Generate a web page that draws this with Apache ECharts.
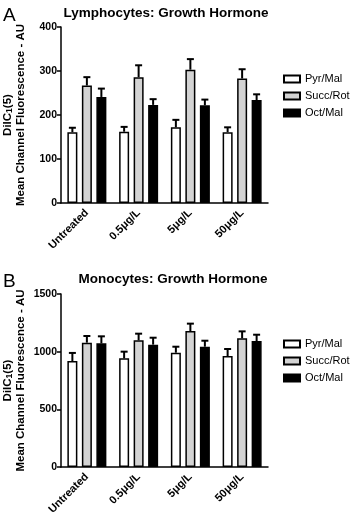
<!DOCTYPE html>
<html>
<head>
<meta charset="utf-8">
<script src="https://cdn.jsdelivr.net/npm/echarts@6/dist/echarts.min.js"></script>
<style>
  html, body { margin: 0; padding: 0; background: #fff; }
  #chart { width: 358px; height: 515px; }
</style>
</head>
<body>
<div id="chart"></div>
<script>
// --- Data ---
const categories = ['Untreated', '0.5μg/L', '5μg/L', '50μg/L'];
const seriesNames = ['Pyr/Mal', 'Succ/Rot', 'Oct/Mal'];

const lymphPyr = [161, 162, 172, 161];
const lymphPyrErr = [10, 11, 17, 11];
const lymphSucc = [267, 286, 303, 283];
const lymphSuccErr = [19, 27, 24, 21];
const lymphOct = [241, 223, 222, 234];
const lymphOctErr = [19, 13, 13, 13];

const monoPyr = [919, 942, 991, 962];
const monoPyrErr = [70, 58, 52, 61];
const monoSucc = [1078, 1098, 1179, 1116];
const monoSuccErr = [58, 58, 64, 60];
const monoOct = [1072, 1061, 1043, 1092];
const monoOctErr = [61, 60, 52, 55];

const FONT = '"Liberation Sans", Arial, sans-serif';
const fills = ['#ffffff', '#d3d3d3', '#000000'];
const BAR_W = 10;
const BAR_GAP = 0.45;

// --- Helpers ---
function barSeries(name, values, idx, gridIdx) {
  return {
    name: name,
    type: 'bar',
    xAxisIndex: gridIdx,
    yAxisIndex: gridIdx,
    data: values,
    barWidth: BAR_W,
    barGap: BAR_GAP * 100 + '%',
    itemStyle: { color: fills[idx], borderColor: '#000', borderWidth: 1.5 },
    emphasis: { disabled: true },
  };
}

function errorSeries(values, errs, idx, gridIdx) {
  const offset = (idx - 1) * BAR_W * (1 + BAR_GAP);
  return {
    type: 'custom',
    name: 'err' + gridIdx + idx,
    xAxisIndex: gridIdx,
    yAxisIndex: gridIdx,
    z: 3,
    data: values.map((v, i) => [i, v, errs[i]]),
    renderItem: (params, api) => {
      const base = api.coord([api.value(0), api.value(1)]);
      const top = api.coord([api.value(0), api.value(1) + api.value(2)]);
      const x = base[0] + offset;
      const style = { stroke: '#000', lineWidth: 2 };
      return {
        type: 'group',
        children: [
          { type: 'line', shape: { x1: x, y1: base[1], x2: x, y2: top[1] }, style },
          { type: 'line', shape: { x1: x - 3.5, y1: top[1], x2: x + 3.5, y2: top[1] }, style },
        ],
      };
    },
  };
}

function xAxis(gridIdx) {
  return {
    type: 'category',
    gridIndex: gridIdx,
    data: categories,
    axisLine: { lineStyle: { color: '#000', width: 1.5 } },
    axisTick: { alignWithLabel: true, length: 4, lineStyle: { color: '#000', width: 1.5 } },
    axisLabel: {
      rotate: 45,
      margin: 8,
      interval: 0,
      color: '#000',
      fontFamily: FONT,
      fontWeight: 'bold',
      fontSize: 11,
    },
  };
}

function yAxis(gridIdx, max, interval) {
  return {
    type: 'value',
    gridIndex: gridIdx,
    min: 0,
    max: max,
    interval: interval,
    splitLine: { show: false },
    axisLine: { show: true, lineStyle: { color: '#000', width: 1.5 } },
    axisTick: { show: true, length: 4, lineStyle: { color: '#000', width: 1.5 } },
    axisLabel: {
      color: '#000', fontFamily: FONT, fontWeight: 'bold', fontSize: 10.5, margin: 4,
      formatter: (v) => String(v),
    },
    name: '{main|DiIC}{sub|1}{main|(5)}\n{main|Mean Channel Fluorescence - AU}',
    nameLocation: 'middle',
    nameRotate: 90,
    nameGap: 34,
    nameMoveOverlap: false,
    nameTextStyle: {
      color: '#000',
      fontFamily: FONT,
      fontWeight: 'bold',
      fontSize: 11.5,
      lineHeight: 13,
      rich: {
        main: { fontSize: 11.5, fontFamily: FONT, fontWeight: 'bold', color: '#000', lineHeight: 13 },
        sub: { fontSize: 8.5, fontFamily: FONT, fontWeight: 'bold', color: '#000', lineHeight: 13, padding: [4, 0, 0, 0] },
      },
    },
  };
}

function legend(top) {
  return {
    data: seriesNames,
    left: 278,
    top: top,
    orient: 'vertical',
    icon: 'rect',
    itemWidth: 16,
    itemHeight: 7,
    itemGap: 5,
    selectedMode: false,
    itemStyle: { borderWidth: 2 },
    textStyle: { color: '#000', fontFamily: FONT, fontSize: 11, lineHeight: 12 },
  };
}

// --- Chart ---
const chart = echarts.init(document.getElementById('chart'));

const option = {
  animation: false,
  title: [
    { text: 'Lymphocytes: Growth Hormone', left: 161, top: 1, textAlign: 'center',
      textStyle: { fontFamily: FONT, fontWeight: 'bold', fontSize: 13.5, color: '#000' } },
    { text: 'Monocytes: Growth Hormone', left: 168, top: 267, textAlign: 'center',
      textStyle: { fontFamily: FONT, fontWeight: 'bold', fontSize: 13.5, color: '#000' } },
    { text: 'A', left: -2, top: 1, textStyle: { fontFamily: FONT, fontWeight: 'normal', fontSize: 19, color: '#000' } },
    { text: 'B', left: -2, top: 267, textStyle: { fontFamily: FONT, fontWeight: 'normal', fontSize: 19, color: '#000' } },
  ],
  legend: [legend(68), legend(333)],
  grid: [
    { left: 61, right: 90, top: 27, bottom: 312, containLabel: false, outerBoundsMode: 'none' },
    { left: 61, right: 90, top: 294, bottom: 48, containLabel: false, outerBoundsMode: 'none' },
  ],
  xAxis: [xAxis(0), xAxis(1)],
  yAxis: [yAxis(0, 400, 100), yAxis(1, 1500, 500)],
  series: [
    barSeries('Pyr/Mal', lymphPyr, 0, 0),
    barSeries('Succ/Rot', lymphSucc, 1, 0),
    barSeries('Oct/Mal', lymphOct, 2, 0),
    errorSeries(lymphPyr, lymphPyrErr, 0, 0),
    errorSeries(lymphSucc, lymphSuccErr, 1, 0),
    errorSeries(lymphOct, lymphOctErr, 2, 0),
    barSeries('Pyr/Mal', monoPyr, 0, 1),
    barSeries('Succ/Rot', monoSucc, 1, 1),
    barSeries('Oct/Mal', monoOct, 2, 1),
    errorSeries(monoPyr, monoPyrErr, 0, 1),
    errorSeries(monoSucc, monoSuccErr, 1, 1),
    errorSeries(monoOct, monoOctErr, 2, 1),
  ],
};

chart.setOption(option);
</script>
</body>
</html>
